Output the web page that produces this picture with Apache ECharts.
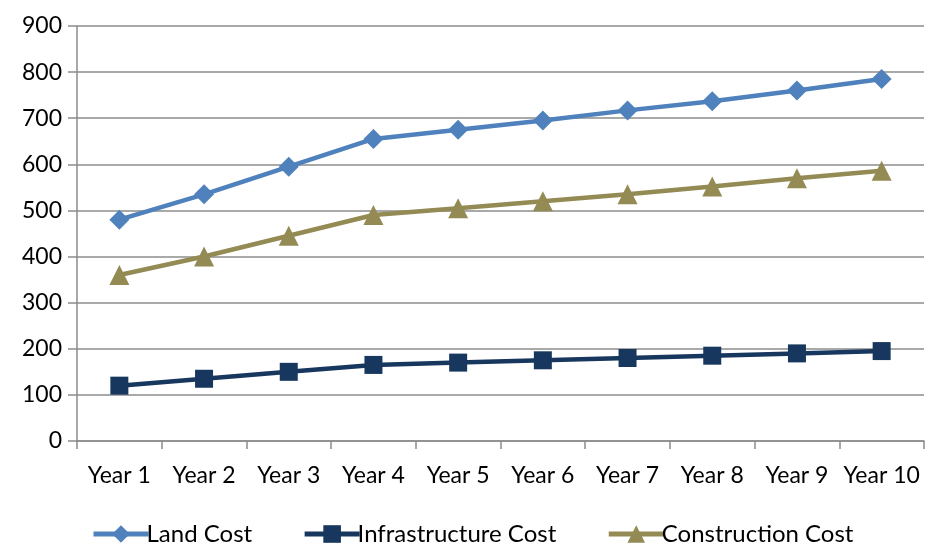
<!DOCTYPE html>
<html>
<head>
<meta charset="utf-8">
<script src="https://cdn.jsdelivr.net/npm/echarts@6/dist/echarts.min.js"></script>
<style>
  html, body { margin: 0; padding: 0; background: #fff; }
  #chart { width: 926px; height: 544px; }
</style>
</head>
<body>
<div id="chart"></div>
<script>
// Project cost projection over ten years
const categories = ['Year 1', 'Year 2', 'Year 3', 'Year 4', 'Year 5', 'Year 6', 'Year 7', 'Year 8', 'Year 9', 'Year 10'];
const landCost = [480, 535, 595, 655, 675, 695, 717, 737, 760, 785];
const infrastructureCost = [120, 135, 150, 165, 170, 175, 180, 185, 190, 195];
const constructionCost = [360, 400, 445, 490, 505, 520, 535, 552, 570, 586];
const yTicks = { min: 0, max: 900, interval: 100 };

const font = 'Lato, "Open Sans", sans-serif';
const gridColor = '#8c8c8c';

const chart = echarts.init(document.getElementById('chart'), null, { renderer: 'canvas' });

function lineSeries(name, data, color, symbol, size) {
  return {
    name: name,
    type: 'line',
    data: data,
    symbol: symbol,
    symbolSize: size,
    showAllSymbol: true,
    lineStyle: { color: color, width: 4.5 },
    itemStyle: { color: color },
    emphasis: { disabled: true },
    animation: false
  };
}

chart.setOption({
  animation: false,
  grid: { left: 77, right: 2, top: 26, bottom: 103, containLabel: false },
  legend: {
    top: 517,
    left: 86,
    itemGap: 50,
    itemWidth: 55,
    itemHeight: 22,
    lineStyle: { width: 5 },
    textStyle: { fontFamily: font, fontSize: 24, color: '#000', padding: [0, 0, 0, -7] },
    data: ['Land Cost', 'Infrastructure Cost', 'Construction Cost']
  },
  xAxis: {
    type: 'category',
    data: categories,
    boundaryGap: true,
    axisLine: { lineStyle: { color: gridColor, width: 1.5 } },
    axisTick: { show: true, interval: 0, length: 8, lineStyle: { color: gridColor, width: 1.5 } },
    axisLabel: { interval: 0, fontFamily: font, fontSize: 23, color: '#000', margin: 23 }
  },
  yAxis: {
    type: 'value',
    min: yTicks.min,
    max: yTicks.max,
    interval: yTicks.interval,
    axisLine: { show: true, lineStyle: { color: gridColor, width: 1.5 } },
    axisTick: { show: true, inside: false, length: 9, lineStyle: { color: gridColor, width: 1.5 } },
    splitLine: { show: true, lineStyle: { color: gridColor, width: 1.5 } },
    axisLabel: { fontFamily: font, fontSize: 23, color: '#000', margin: 15 }
  },
  series: [
    lineSeries('Land Cost', landCost, '#4F81BD', 'diamond', 20),
    lineSeries('Infrastructure Cost', infrastructureCost, '#17375E', 'rect', 18),
    lineSeries('Construction Cost', constructionCost, '#948A54', 'triangle', 20)
  ]
});
</script>
</body>
</html>
